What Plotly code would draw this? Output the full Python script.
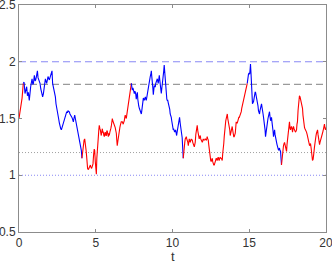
import plotly.graph_objects as go

# ---- data ----
t = [0.00,0.06,0.12,0.20,0.28,
0.33,0.39,0.44,0.50,0.55,0.61,0.67,0.72,0.76,0.85,0.90,0.94,1.00,1.05,1.09,1.15,1.20,1.24,1.28,1.37,1.42,1.46,1.50,1.54,1.59,1.63,1.68,1.72,1.76,1.80,1.85,1.89,1.94,1.98,2.02,2.06,2.11,2.15,2.19,2.24,2.28,2.33,2.37,2.41,2.46,2.50,2.54,2.58,2.63,2.67,2.72,2.76,2.80,2.85,2.89,2.93,2.98,3.02,3.06,3.11,3.15,3.19,3.24,3.28,3.32,3.37,3.41,3.45,3.50,3.54,3.58,3.63,3.67,3.71,3.76,3.80,3.85,3.89,3.93,3.97,4.02,4.06,4.10,
4.15,4.19,4.24,4.28,4.31,4.34,4.37,4.41,4.44,4.47,4.52,4.56,4.60,4.65,4.69,4.73,4.78,4.82,4.86,4.90,4.93,4.97,5.01,5.04,5.07,5.10,5.14,5.17,5.20,5.23,5.27,5.30,5.33,5.36,5.40,5.43,5.46,5.49,5.53,5.56,5.59,5.62,5.66,5.69,5.72,5.75,5.79,5.82,5.85,5.88,5.92,5.95,5.98,6.01,6.05,6.08,6.11,6.14,6.18,6.21,6.24,6.27,6.31,6.34,6.37,6.40,6.44,6.47,6.50,6.53,6.57,6.60,6.63,6.66,6.70,6.73,6.76,6.79,6.83,6.86,6.89,6.92,6.96,6.99,7.02,7.05,7.09,7.12,7.15,7.19,7.22,7.25,7.29,7.32,
7.35,7.38,7.42,7.45,7.48,7.51,7.55,7.58,7.61,7.64,7.67,7.71,7.74,7.77,7.80,7.84,7.87,7.90,7.94,7.97,8.00,8.03,8.07,8.10,8.13,8.16,8.20,8.23,8.26,8.29,8.33,8.36,8.39,8.42,8.46,8.49,8.52,8.55,8.59,8.62,8.65,8.68,8.72,8.75,8.78,8.81,8.85,8.88,8.91,8.94,8.98,9.01,9.04,9.07,9.11,9.14,9.17,9.20,9.24,9.27,9.30,9.33,9.37,9.40,9.43,9.46,9.50,9.53,9.56,9.59,9.63,9.66,9.69,9.72,9.76,9.79,9.82,9.85,9.89,9.92,9.95,9.98,10.01,10.05,10.07,10.11,10.14,10.17,10.20,10.24,10.27,10.30,10.33,10.37,10.40,10.43,10.46,10.50,10.53,10.56,10.59,10.63,10.66,10.70,
10.73,10.77,10.80,10.83,10.87,10.90,10.93,10.96,11.00,11.03,11.06,11.09,11.13,11.16,11.19,11.22,11.26,11.29,11.32,11.35,11.39,11.42,11.45,11.48,11.52,11.55,11.58,11.61,11.65,11.68,11.71,11.74,11.78,11.81,11.84,11.87,11.91,11.94,11.97,12.00,12.04,12.07,12.10,12.13,12.17,12.20,12.23,12.26,12.30,12.33,12.36,12.39,12.43,12.46,12.49,12.52,12.56,12.59,12.62,12.65,12.69,12.72,12.75,12.78,12.82,12.85,12.88,12.91,12.95,12.98,13.01,13.04,13.08,13.11,13.14,13.17,13.21,13.24,13.27,13.30,13.34,13.37,13.40,13.44,13.47,13.50,13.54,13.57,13.60,13.63,13.67,13.70,13.73,13.76,13.80,13.83,13.86,13.89,13.93,13.96,13.99,14.02,14.06,14.09,14.12,14.15,14.19,14.22,14.25,14.28,14.32,14.35,14.38,14.41,14.45,14.48,14.51,14.54,14.58,14.61,14.64,14.67,14.71,14.74,14.77,14.80,14.84,14.87,
14.90,14.95,14.99,15.03,15.06,15.08,15.11,15.13,15.15,15.17,15.19,15.21,15.25,15.28,15.31,15.34,15.38,15.41,15.44,15.47,15.50,15.54,15.57,15.60,15.64,15.67,15.70,15.73,15.77,15.80,15.83,15.87,15.90,15.93,15.96,16.00,16.03,16.06,16.10,16.13,16.16,16.19,16.22,16.26,16.29,16.32,16.35,16.39,16.42,16.45,16.48,16.52,16.55,16.58,16.61,16.65,16.68,16.71,16.74,16.78,16.81,16.84,16.87,16.91,16.94,16.97,17.00,17.04,17.10,
17.13,17.17,17.20,17.23,17.27,17.30,17.33,17.36,17.40,17.43,17.46,17.49,17.53,17.56,17.59,17.62,17.66,17.69,17.72,17.75,17.79,17.82,17.85,17.88,17.92,17.95,17.98,18.01,18.05,18.08,18.11,18.14,18.18,18.21,18.24,18.27,18.31,18.34,18.37,18.40,18.44,18.47,18.50,18.53,18.57,18.60,18.63,18.67,18.70,18.73,18.77,18.80,18.83,18.86,18.90,18.93,18.96,18.99,19.03,19.06,19.09,19.12,19.16,19.19,19.22,19.25,19.29,19.32,19.35,19.38,19.42,19.45,19.48,19.51,19.55,19.58,19.61,19.64,19.68,19.71,19.74,19.77,19.81,19.84,19.87,19.90,19.94,19.97,20.00]

v = [1.50,1.55,1.58,1.68,1.81,
1.82,1.72,1.76,1.78,1.70,1.73,1.66,1.74,1.78,1.85,1.80,1.81,1.88,1.83,1.84,1.88,1.92,1.86,1.84,1.81,1.76,1.73,1.71,1.69,1.72,1.75,1.80,1.85,1.83,1.81,1.84,1.87,1.85,1.84,1.86,1.88,1.90,1.92,1.81,1.78,1.75,1.72,1.69,1.63,1.60,1.57,1.54,1.50,1.46,1.43,1.41,1.40,1.42,1.45,1.46,1.48,1.51,1.53,1.54,1.56,1.55,1.57,1.56,1.56,1.54,1.53,1.52,1.51,1.49,1.47,1.50,1.53,1.50,1.47,1.43,1.40,1.37,1.35,1.31,1.28,1.25,1.22,1.15,
1.22,1.28,1.31,1.32,1.29,1.28,1.22,1.16,1.10,1.06,1.05,1.06,1.08,1.09,1.07,1.06,1.08,1.10,1.18,1.23,1.22,1.12,1.04,1.01,1.15,1.25,1.30,1.34,1.40,1.44,1.41,1.40,1.37,1.35,1.39,1.41,1.38,1.38,1.35,1.34,1.37,1.38,1.35,1.35,1.39,1.39,1.36,1.34,1.37,1.35,1.38,1.39,1.41,1.43,1.47,1.50,1.48,1.47,1.46,1.45,1.44,1.42,1.39,1.37,1.31,1.26,1.30,1.34,1.37,1.40,1.42,1.44,1.46,1.47,1.47,1.47,1.46,1.45,1.47,1.48,1.51,1.53,1.51,1.50,1.53,1.56,1.58,1.60,1.63,1.66,1.70,1.75,1.77,1.81,
1.77,1.75,1.77,1.76,1.74,1.72,1.74,1.73,1.71,1.67,1.70,1.73,1.67,1.62,1.61,1.59,1.58,1.57,1.56,1.54,1.57,1.60,1.64,1.68,1.67,1.66,1.68,1.69,1.67,1.66,1.69,1.72,1.75,1.78,1.80,1.81,1.85,1.87,1.89,1.92,1.87,1.84,1.77,1.71,1.76,1.79,1.78,1.78,1.81,1.82,1.84,1.85,1.83,1.81,1.85,1.88,1.84,1.81,1.76,1.72,1.76,1.79,1.83,1.87,1.92,1.97,1.90,1.84,1.77,1.69,1.67,1.66,1.66,1.64,1.62,1.61,1.58,1.54,1.53,1.51,1.48,1.45,1.43,1.40,1.41,1.38,1.38,1.39,1.40,1.37,1.35,1.38,1.41,1.45,1.47,1.50,1.51,1.46,1.44,1.40,1.37,1.33,1.28,1.15,
1.22,1.25,1.29,1.32,1.33,1.34,1.32,1.31,1.29,1.26,1.29,1.32,1.30,1.29,1.31,1.32,1.31,1.31,1.29,1.28,1.27,1.25,1.27,1.29,1.36,1.40,1.42,1.44,1.39,1.35,1.34,1.32,1.34,1.35,1.32,1.31,1.30,1.29,1.30,1.32,1.31,1.31,1.31,1.32,1.31,1.31,1.32,1.34,1.32,1.31,1.27,1.22,1.17,1.15,1.13,1.12,1.13,1.15,1.12,1.10,1.09,1.09,1.11,1.12,1.14,1.15,1.14,1.13,1.15,1.16,1.14,1.13,1.15,1.16,1.15,1.15,1.14,1.13,1.19,1.22,1.28,1.34,1.40,1.44,1.48,1.50,1.52,1.54,1.50,1.48,1.46,1.44,1.40,1.35,1.38,1.40,1.42,1.43,1.39,1.35,1.34,1.34,1.35,1.37,1.42,1.47,1.46,1.46,1.48,1.50,1.51,1.51,1.52,1.53,1.54,1.56,1.59,1.61,1.63,1.66,1.68,1.70,1.72,1.75,1.76,1.78,1.79,1.81,
1.86,1.89,1.90,1.89,1.94,1.98,1.91,1.86,1.78,1.72,1.68,1.63,1.64,1.65,1.68,1.72,1.73,1.73,1.71,1.69,1.68,1.66,1.61,1.57,1.55,1.54,1.57,1.60,1.61,1.63,1.60,1.58,1.54,1.51,1.48,1.45,1.40,1.34,1.37,1.40,1.44,1.47,1.50,1.53,1.55,1.56,1.52,1.48,1.50,1.51,1.47,1.44,1.39,1.34,1.37,1.40,1.36,1.32,1.31,1.29,1.27,1.25,1.24,1.22,1.23,1.24,1.22,1.21,1.09,
1.14,1.18,1.22,1.26,1.28,1.29,1.27,1.25,1.22,1.21,1.27,1.31,1.39,1.40,1.44,1.47,1.41,1.40,1.42,1.43,1.41,1.38,1.41,1.43,1.41,1.40,1.39,1.38,1.39,1.40,1.45,1.47,1.57,1.66,1.68,1.70,1.69,1.67,1.65,1.63,1.60,1.59,1.53,1.48,1.45,1.42,1.41,1.40,1.39,1.38,1.36,1.34,1.32,1.31,1.29,1.26,1.27,1.28,1.24,1.21,1.16,1.13,1.14,1.16,1.21,1.25,1.31,1.34,1.35,1.37,1.38,1.40,1.36,1.33,1.29,1.27,1.29,1.31,1.34,1.35,1.36,1.37,1.39,1.41,1.43,1.45,1.41,1.40,1.42]

upper_switch = 1.8   # path turns blue when it reaches this level
lower_switch = 1.2   # path turns red when it falls to this level
ref_levels = [2.0, 1.8, 1.2, 1.0]
x_ticks = [0, 5, 10, 15, 20]
y_ticks = [0.5, 1, 1.5, 2, 2.5]
x_label = "t"

# ---- split into regime segments (hysteresis) ----
segments = []
state = "red"
cur_t, cur_v = [t[0]], [v[0]]
for i in range(1, len(t)):
    cur_t.append(t[i]); cur_v.append(v[i])
    new_state = state
    if state == "red" and v[i] >= upper_switch:
        new_state = "blue"
    elif state == "blue" and v[i] <= lower_switch:
        new_state = "red"
    if new_state != state:
        segments.append((state, cur_t, cur_v))
        cur_t, cur_v = [t[i]], [v[i]]
        state = new_state
segments.append((state, cur_t, cur_v))

colors = {"red": "#ff0000", "blue": "#0000ff"}

fig = go.Figure()
for st, xs, ys in segments:
    fig.add_trace(go.Scatter(x=xs, y=ys, mode="lines",
                             line=dict(color=colors[st], width=1.1),
                             showlegend=False, hoverinfo="skip"))

ref_styles = [
    dict(color="#8888f4", width=1, dash="7px,4px"),
    dict(color="#9a9a9a", width=1.2, dash="7px,4px"),
    dict(color="#a0a0a0", width=1, dash="1px,2px"),
    dict(color="#8888f4", width=1, dash="1px,2px"),
]
for lvl, st in zip(ref_levels, ref_styles):
    fig.add_shape(type="line", xref="x", yref="y", x0=x_ticks[0], x1=x_ticks[-1],
                  y0=lvl, y1=lvl, line=st, layer="below")

axis_common = dict(showgrid=False, zeroline=False, showline=True, linecolor="#8c8c8c",
                   linewidth=1, mirror="ticks", ticks="inside", ticklen=3,
                   tickcolor="#8c8c8c", tickwidth=1, automargin=False,
                   ticklabeloverflow="allow",
                   tickfont=dict(family="Liberation Sans, Arial", size=12, color="#333333"))

# x-axis title placed below the tick labels
fig.add_annotation(text=x_label, xref="paper", yref="paper", x=0.5, y=0,
                   xanchor="center", yanchor="middle", yshift=-24, showarrow=False,
                   font=dict(family="Liberation Sans, Arial", size=13, color="#333333"))

fig.update_layout(
    width=332, height=262,
    margin=dict(l=19, r=6, t=5, b=30),
    paper_bgcolor="white", plot_bgcolor="white",
    xaxis=dict(range=[0, 20], tickvals=x_ticks, ticktext=[str(x) for x in x_ticks],
               **axis_common),
    yaxis=dict(range=[0.5, 2.5], tickvals=y_ticks, ticktext=["0.5", "1", "1.5", "2", "2.5"],
               **axis_common),
)

fig.write_html("out.html", config={"displayModeBar": False},
               post_script="document.body.style.margin='0';document.body.style.overflow='hidden';")
